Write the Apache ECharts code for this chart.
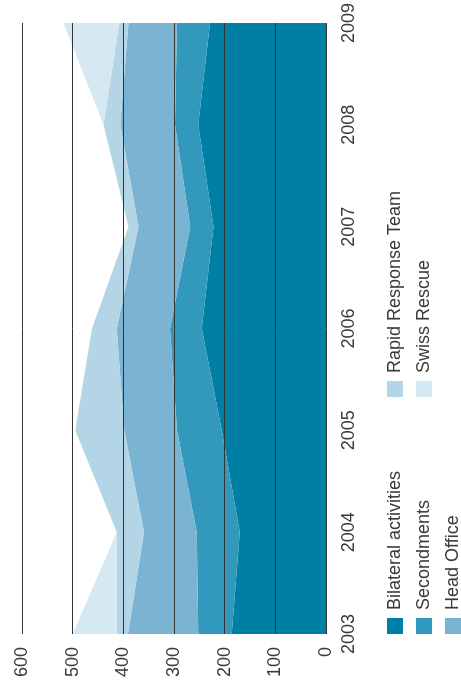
<!DOCTYPE html>
<html>
<head>
<meta charset="utf-8">
<script src="https://cdn.jsdelivr.net/npm/echarts@6/dist/echarts.min.js"></script>
<style>
html,body{margin:0;padding:0;width:461px;height:690px;overflow:hidden;background:#fff;}
#chart{position:absolute;left:0;top:0;width:690px;height:461px;transform-origin:0 0;transform:translateY(690px) rotate(-90deg);}
</style>
</head>
<body>
<div id="chart"></div>
<script>
var years = ['2003', '2004', '2005', '2006', '2007', '2008', '2009'];
var bilateral = [186, 170, 206, 245, 222, 252, 229];
var secondments = [66, 85, 88, 63, 46, 46, 65];
var headOffice = [139, 104, 104, 105, 102, 108, 96];
var rapidResponse = [22, 54, 97, 49, 20, 33, 18];
var swissRescue = [87, 0, 0, 0, 0, 0, 110];
var valueTicks = [0, 100, 200, 300, 400, 500, 600];

var FONT = 'Liberation Sans, Arial, sans-serif';
var TXT = '#3a3a3a';

function area(name, data, color) {
  return {
    name: name, type: 'line', stack: 'total', data: data,
    symbol: 'none', smooth: false,
    lineStyle: { width: 0 },
    areaStyle: { color: color, opacity: 1 },
    itemStyle: { color: color },
    emphasis: { disabled: true }
  };
}

function legendItem(name, left, top) {
  return {
    left: left, top: top, padding: 0, itemWidth: 16, itemHeight: 16,
    icon: 'rect', data: [name], selectedMode: false,
    textStyle: { fontSize: 18, lineHeight: 16, color: TXT, fontFamily: FONT, padding: [0, 0, 0, 3] }
  };
}

var chart = echarts.init(document.getElementById('chart'));
chart.setOption({
  animation: false,
  grid: { left: 56, right: 22, top: 22, bottom: 135 },
  xAxis: {
    type: 'category', data: years, boundaryGap: false,
    axisLine: { show: false }, axisTick: { show: false },
    axisLabel: { fontSize: 18, color: TXT, fontFamily: FONT, margin: 14 }
  },
  yAxis: {
    type: 'value', min: valueTicks[0], max: valueTicks[valueTicks.length - 1], interval: 100,
    z: 10,
    axisLine: { show: false }, axisTick: { show: false },
    splitLine: { show: true, lineStyle: { color: '#333333', width: 1 } },
    axisLabel: { fontSize: 18, color: TXT, fontFamily: FONT, margin: 13 }
  },
  legend: [
    legendItem('Bilateral activities', 56, 386),
    legendItem('Secondments', 56, 415),
    legendItem('Head Office', 56, 444),
    legendItem('Rapid Response Team', 293, 386),
    legendItem('Swiss Rescue', 293, 415)
  ],
  series: [
    area('Bilateral activities', bilateral, '#007fa4'),
    area('Secondments', secondments, '#3399bc'),
    area('Head Office', headOffice, '#7ab4d2'),
    area('Rapid Response Team', rapidResponse, '#b4d5e6'),
    area('Swiss Rescue', swissRescue, '#d6e8f1')
  ]
});
</script>
</body>
</html>
